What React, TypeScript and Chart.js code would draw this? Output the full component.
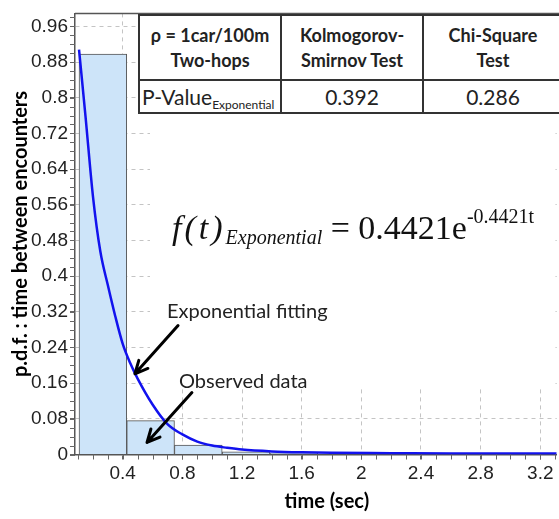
import React, { useEffect, useRef } from "react";
import { Chart, registerables } from "chart.js";

Chart.register(...registerables);

// ---------------- data ----------------
// histogram bins (time in sec) and observed density
const binEdges = [0.107, 0.427, 0.747, 1.067, 1.387, 1.707];
const binDensity = [0.898, 0.076, 0.021, 0.006, 0.003];

// fitted exponential curve
const fitTime = [0.107, 0.15, 0.2, 0.25, 0.3, 0.35, 0.4, 0.45, 0.5, 0.6, 0.7, 0.8, 0.9, 1.0, 1.1, 1.2, 1.4, 1.6, 1.8, 2.2, 2.6, 3.0, 3.31];
const fitDensity = [0.908, 0.76, 0.58, 0.455, 0.38, 0.31, 0.248, 0.205, 0.17, 0.112, 0.068, 0.045, 0.029, 0.02, 0.015, 0.011, 0.007, 0.005, 0.004, 0.003, 0.002, 0.002, 0.002];

// axes
const xMajorTicks = [0.4, 0.8, 1.2, 1.6, 2, 2.4, 2.8, 3.2];
const yMajorTicks = [0, 0.08, 0.16, 0.24, 0.32, 0.4, 0.48, 0.56, 0.64, 0.72, 0.8, 0.88, 0.96];
const xMinorStep = 0.1;
const yMinorStep = 0.02;
const xMin = 0.08;
const xMax = 3.31;
const yMin = 0;
const yMax = 0.989;

const xTitle = "time (sec)";
const yTitle = "p.d.f. : time between encounters";

// table
const tableHead = [["ρ = 1car/100m", "Two-hops"], ["Kolmogorov-", "Smirnov Test"], ["Chi-Square", "Test"]];
const pValueLabel = "P-Value";
const pValueSub = "Exponential";
const pValues = ["0.392", "0.286"];

// annotations (data coordinates)
const annotationTexts = ["Exponential fitting", "Observed data"];
const annotationTextAt = [[0.697, 0.306], [0.777, 0.148]];
const arrowFrom = [[0.771, 0.289], [0.864, 0.139]];
const arrowTo = [[0.482, 0.181], [0.563, 0.027]];

// ---------------- helpers ----------------
const fmt = (v: number) => String(Number(v.toFixed(2)));
const minorTicks = (min: number, max: number, step: number) => {
  const out: number[] = [];
  for (let i = Math.ceil(min / step - 1e-9); i * step <= max + 1e-9; i++) out.push(Number((i * step).toFixed(4)));
  return out;
};

const TICK_LEN = 5;
const AXIS_COLOR = "#555";

const decorPlugin = {
  id: "decor",
  beforeDatasetsDraw(chart: any) {
    const { ctx } = chart;
    // white text box that hides the grid behind the formula
    ctx.save();
    ctx.fillStyle = "#ffffff";
    ctx.fillRect(150, 112, 553 - 150, 389 - 112);
    ctx.restore();
  },
  afterDatasetsDraw(chart: any) {
    const { ctx, chartArea, scales } = chart;
    const xs = scales.x;
    const ys = scales.y;
    ctx.save();
    // top frame line
    ctx.strokeStyle = AXIS_COLOR;
    ctx.lineWidth = 1.5;
    ctx.beginPath();
    ctx.moveTo(chartArea.left, chartArea.top);
    ctx.lineTo(chart.width, chartArea.top);
    ctx.stroke();

    // minor ticks
    ctx.strokeStyle = "#666";
    ctx.lineWidth = 1;
    ctx.beginPath();
    for (const v of minorTicks(xMin, xMax, xMinorStep)) {
      const px = Math.round(xs.getPixelForValue(v)) + 0.5;
      ctx.moveTo(px, chartArea.bottom);
      ctx.lineTo(px, chartArea.bottom + TICK_LEN);
    }
    for (const v of minorTicks(yMin, yMax, yMinorStep)) {
      const py = Math.round(ys.getPixelForValue(v)) + 0.5;
      ctx.moveTo(chartArea.left - TICK_LEN, py);
      ctx.lineTo(chartArea.left, py);
    }
    ctx.stroke();

    // arrows
    ctx.strokeStyle = "#000";
    ctx.fillStyle = "#000";
    ctx.lineWidth = 3;
    ctx.lineCap = "round";
    ctx.lineJoin = "round";
    for (let i = 0; i < arrowFrom.length; i++) {
      const x1 = xs.getPixelForValue(arrowFrom[i][0]);
      const y1 = ys.getPixelForValue(arrowFrom[i][1]);
      const x2 = xs.getPixelForValue(arrowTo[i][0]);
      const y2 = ys.getPixelForValue(arrowTo[i][1]);
      ctx.beginPath();
      ctx.moveTo(x1, y1);
      ctx.lineTo(x2, y2);
      const ang = Math.atan2(y2 - y1, x2 - x1);
      const hl = 14;
      ctx.moveTo(x2 + hl * Math.cos(ang + Math.PI - 0.45), y2 + hl * Math.sin(ang + Math.PI - 0.45));
      ctx.lineTo(x2, y2);
      ctx.lineTo(x2 + hl * Math.cos(ang + Math.PI + 0.45), y2 + hl * Math.sin(ang + Math.PI + 0.45));
      ctx.stroke();
    }

    // annotation texts
    ctx.font = "20px Lato";
    ctx.fillStyle = "#222";
    ctx.textAlign = "left";
    ctx.textBaseline = "alphabetic";
    for (let i = 0; i < annotationTexts.length; i++) {
      ctx.fillText(annotationTexts[i], xs.getPixelForValue(annotationTextAt[i][0]), ys.getPixelForValue(annotationTextAt[i][1]));
    }

    // x axis title
    ctx.font = "bold 20px Lato";
    ctx.fillStyle = "#000";
    ctx.textAlign = "center";
    ctx.fillText(xTitle, (chartArea.left + chartArea.right) / 2 + 11, chartArea.bottom + 53);
    ctx.restore();
  },
};

function ChartCanvas() {
  const ref = useRef<HTMLCanvasElement | null>(null);
  useEffect(() => {
    if (!ref.current) return;
    const centers = binDensity.map((_, i) => (binEdges[i] + binEdges[i + 1]) / 2);
    const chart = new Chart(ref.current, {
      type: "bar",
      data: {
        datasets: [
          {
            type: "line",
            label: "Exponential fitting",
            data: fitTime.map((t, i) => ({ x: t, y: fitDensity[i] })),
            borderColor: "#1212ee",
            borderWidth: 2.5,
            pointRadius: 0,
            fill: false,
            cubicInterpolationMode: "monotone",
            order: 0,
          } as any,
          {
            type: "bar",
            label: "Observed data",
            data: centers.map((c, i) => ({ x: c, y: binDensity[i] })),
            backgroundColor: "#cde4f9",
            borderColor: "#555",
            borderWidth: 1,
            barThickness: "flex",
            barPercentage: 1,
            categoryPercentage: 1,
            order: 1,
          } as any,
        ],
      },
      options: {
        responsive: false,
        animation: false,
        devicePixelRatio: 1,
        layout: { padding: { top: 4, right: 2.3, left: 0, bottom: 0 } },
        plugins: { legend: { display: false }, tooltip: { enabled: false }, title: { display: false } },
        scales: {
          x: {
            type: "linear",
            offset: false,
            min: xMin,
            max: xMax,
            afterBuildTicks: (s: any) => {
              s.ticks = xMajorTicks.map((v) => ({ value: v }));
            },
            afterFit: (s: any) => {
              s.height = 64.5;
            },
            ticks: {
              autoSkip: false,
              maxRotation: 0,
              padding: 3,
              color: "#222",
              font: { family: '"Liberation Sans", Arial, sans-serif', size: 19 },
              callback: (v: any) => fmt(Number(v)),
            },
            grid: {
              offset: false,
              color: "#c4c4c4",
              tickColor: "#666",
              tickLength: TICK_LEN,
              lineWidth: 1,
            },
            border: { display: true, color: AXIS_COLOR, width: 1.5, dash: [4, 4] },
          },
          y: {
            type: "linear",
            min: yMin,
            max: yMax,
            afterBuildTicks: (s: any) => {
              s.ticks = yMajorTicks.map((v) => ({ value: v }));
            },
            afterFit: (s: any) => {
              s.width = 75;
            },
            ticks: {
              autoSkip: false,
              padding: 2,
              color: "#222",
              font: { family: '"Liberation Sans", Arial, sans-serif', size: 19 },
              callback: (v: any) => fmt(Number(v)),
            },
            grid: {
              color: "#c4c4c4",
              tickColor: "#666",
              tickLength: TICK_LEN,
              lineWidth: 1,
            },
            border: { display: true, color: AXIS_COLOR, width: 1.5, dash: [4, 4] },
            title: {
              display: true,
              text: yTitle,
              color: "#000",
              font: { family: "Lato", weight: "bold", size: 20 },
              padding: { top: 9, bottom: 0 },
            },
          },
        },
      } as any,
      plugins: [decorPlugin as any],
    });
    return () => chart.destroy();
  }, []);
  return <canvas ref={ref} width={559} height={519} style={{ position: "absolute", left: 0, top: 0, width: 559, height: 519 }} />;
}

const cellBorder = "2px solid #333";

export default function App() {
  const headStyle: React.CSSProperties = {
    border: cellBorder,
    padding: 0,
    textAlign: "center",
    verticalAlign: "middle",
    fontFamily: "Lato, sans-serif",
    fontWeight: "bold",
    fontSize: 18,
    lineHeight: "25px",
    color: "#222",
  };
  const bodyStyle: React.CSSProperties = {
    border: cellBorder,
    padding: 0,
    textAlign: "center",
    verticalAlign: "middle",
    fontFamily: "Lato, sans-serif",
    fontSize: 21,
    color: "#222",
    whiteSpace: "nowrap",
  };
  return (
    <div style={{ position: "fixed", left: 0, top: 0, width: 559, height: 519, overflow: "hidden", background: "#fff" }}>
      <ChartCanvas />
      <table
        style={{
          position: "absolute",
          left: 138,
          top: 14,
          borderCollapse: "collapse",
          tableLayout: "fixed",
          width: 424,
          background: "#fff",
        }}
      >
        <colgroup>
          <col style={{ width: 142 }} />
          <col style={{ width: 142 }} />
          <col style={{ width: 140 }} />
        </colgroup>
        <tbody>
          <tr style={{ height: 65 }}>
            {tableHead.map((lines, i) => (
              <th key={i} style={headStyle}>
                {lines[0]}
                <br />
                {lines[1]}
              </th>
            ))}
          </tr>
          <tr style={{ height: 33 }}>
            <td style={{ ...bodyStyle, textAlign: "left", paddingLeft: 2 }}>
              {pValueLabel}
              <span style={{ fontSize: 12, position: "relative", top: 4 }}>{pValueSub}</span>
            </td>
            {pValues.map((p, i) => (
              <td key={i} style={bodyStyle}>
                {p}
              </td>
            ))}
          </tr>
        </tbody>
      </table>
      <div
        style={{
          position: "absolute",
          left: 172,
          top: 207.5,
          fontFamily: '"Liberation Serif", "Times New Roman", serif',
          fontSize: 34,
          lineHeight: "40px",
          whiteSpace: "nowrap",
          color: "#111",
        }}
      >
        <span style={{ fontStyle: "italic", letterSpacing: 3 }}>f(t)</span>
        <span style={{ fontStyle: "italic", fontSize: 20, position: "relative", top: 5 }}>Exponential</span>
        <span> = 0.4421e</span>
        <span style={{ fontSize: 20, position: "relative", top: -16 }}>-0.4421t</span>
      </div>
    </div>
  );
}
